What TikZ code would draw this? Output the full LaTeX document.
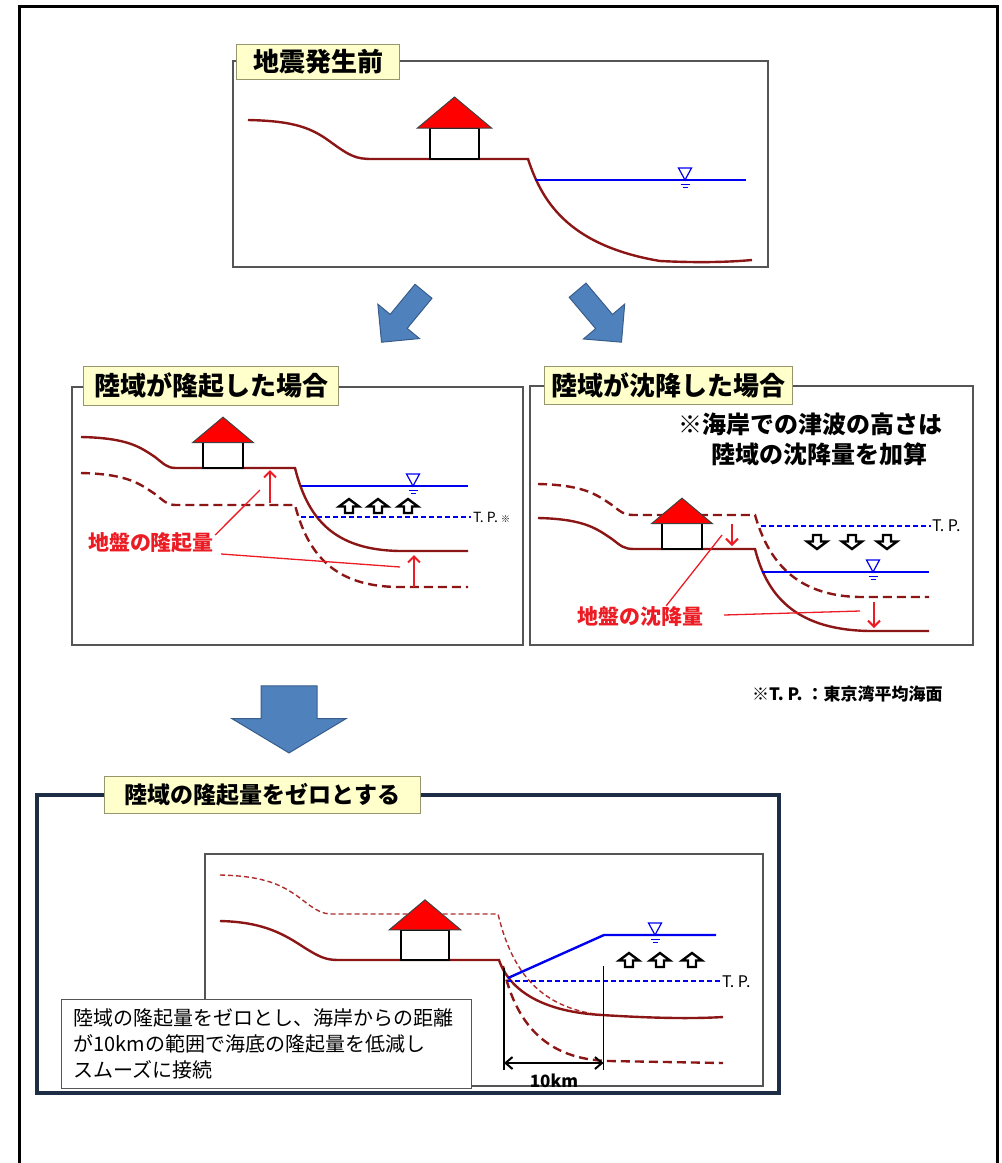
\documentclass[tikz,border=0pt]{standalone}
\usepackage{fontspec}
\setmainfont{Noto Sans CJK JP}
\usetikzlibrary{arrows.meta}
\usetikzlibrary{shapes.arrows}

\definecolor{groundred}{RGB}{140,22,22}
\definecolor{groundlight}{RGB}{175,45,45}
\definecolor{markred}{RGB}{235,28,36}
\definecolor{seablue}{RGB}{0,0,240}
\definecolor{tagfill}{RGB}{255,255,204}
\definecolor{tagline}{RGB}{150,150,110}
\definecolor{frameline}{RGB}{85,85,85}
\definecolor{navyline}{RGB}{30,45,70}
\definecolor{arrowblue}{RGB}{79,129,189}
\definecolor{arrowedge}{RGB}{56,93,138}

\tikzset{
  ground/.style={draw=groundred, line width=2.4pt},
  groundold/.style={ground, dash pattern=on 9pt off 5pt},
  groundthin/.style={draw=groundlight, line width=1.4pt, dash pattern=on 5pt off 3pt},
  sea/.style={draw=seablue, line width=2.4pt},
  tpline/.style={draw=seablue, line width=1.2pt, dash pattern=on 5pt off 3pt},
  panel/.style={draw=frameline, line width=1.4pt},
  tag/.style={draw=tagline, fill=tagfill, line width=1pt, anchor=north west,
    inner sep=0pt, font=\bfseries\fontsize{26}{26}\selectfont},
  redlbl/.style={text=markred, inner sep=1pt, font=\bfseries\fontsize{21}{21}\selectfont},
  leader/.style={draw=markred, line width=1.3pt},
  redarrow/.style={draw=markred, line width=2pt, -{Straight Barb[length=6pt,width=12pt]}},
  tplbl/.style={anchor=west, inner sep=1pt, font=\fontsize{14}{14}\selectfont},
  bigarrow/.style={single arrow, fill=arrowblue, draw=arrowedge, line width=1pt,
    inner xsep=0pt, inner ysep=10.5pt, single arrow head extend=16pt,
    single arrow tip angle=90},
  pics/house/.style={code={
    \draw[black, line width=1.5pt, fill=white] (-24.5,0) rectangle (24.5,-31);
    \draw[black!75, line width=1pt, fill=red, line join=miter]
      (-37,-31) -- (0,-62) -- (37,-31) -- cycle;
  }},
  pics/wlmark/.style={code={
    \draw[draw=seablue, line width=1.2pt] (-6.5,-12) -- (6.5,-12) -- (0,0) -- cycle;
    \draw[draw=seablue, line width=1pt] (-4.5,4) -- (4.5,4) (-2.5,7) -- (2.5,7);
  }},
  pics/hollowup/.style={code={
    \draw[black, line width=2.4pt, fill=white, line join=miter]
      (-4,0) -- (-4,-6.5) -- (-10,-6.5) -- (0,-14) -- (10,-6.5) -- (4,-6.5) -- (4,0) -- cycle;
  }}
}

\begin{document}
\begin{tikzpicture}[x=1pt,y=-1pt]
\useasboundingbox (0,0) rectangle (1002,1163);
\draw[black, line width=3pt] (19.5,1175) -- (19.5,6.5) -- (997.5,6.5) -- (997.5,1175);

% before the earthquake
\draw[panel] (233,61) rectangle (768,267);
\draw[ground] (248,120) .. controls (295,121) and (312,128) .. (332,143)
  .. controls (350,156) and (356,159) .. (372,159) -- (528,159)
  .. controls (541,198) and (565,245) .. (660,261)
  .. controls (700,263) and (730,262) .. (752,260);
\draw[sea] (535,180) -- (746,180);
\pic at (685,180) {wlmark};
\pic at (454.5,159) {house};
\node[tag, minimum width=163pt, minimum height=35pt] (before) at (236,44) {地震発生前};

\node[bigarrow, minimum height=66pt, rotate=230.5] (toup) at (406,312.5) {};
\node[bigarrow, minimum height=68pt, rotate=-49.8] (todown) at (596,312) {};

% land uplift
\draw[panel] (72,387) rectangle (523,645);
\draw[groundold] (81,473) .. controls (128,474) and (140,484) .. (155,494)
  .. controls (164,501) and (167,505) .. (176,505) -- (295,505)
  .. controls (308,555) and (335,587) .. (400,587) -- (468,587);
\draw[ground] (81,437) .. controls (128,438) and (140,447) .. (155,457)
  .. controls (164,464) and (167,468) .. (176,468) -- (295,468)
  .. controls (308,520) and (335,550) .. (400,551) -- (468,551);
\pic[scale=0.82] at (223,468) {house};
\draw[sea] (301,486) -- (468,486);
\pic at (413,486) {wlmark};
\draw[tpline] (301,517) -- (471,517);
\node[tplbl] (tpup) at (472,517) {T. P. {\fontsize{9}{9}\selectfont ※}};
\foreach \xa in {349,378,408} \pic at (\xa,513) {hollowup};
\coordinate (upland) at (270,470);
\coordinate (upsea) at (414,555);
\draw[redarrow] (270,503) -- (upland);
\draw[redarrow] (414,587) -- (upsea);
\node[redlbl] (upamt) at (151,543) {地盤の隆起量};
\draw[leader] ([yshift=8pt]upamt.east) -- (260,490);
\draw[leader] ([xshift=6pt,yshift=-11pt]upamt.east) -- (400,567);
\node[tag, minimum width=255pt, minimum height=39pt] (uplift) at (83,366) {陸域が隆起した場合};

% land subsidence
\draw[panel] (530,386) rectangle (973,645);
\node[anchor=north west, inner sep=0pt, align=left,
  font=\bfseries\fontsize{24}{30}\selectfont] (note) at (678,413)
  {※海岸での津波の高さは\\\hspace*{33pt}陸域の沈降量を加算};
\draw[ground] (538,518) .. controls (585,519) and (597,529) .. (612,539)
  .. controls (621,546) and (624,549) .. (634,549) -- (755,549)
  .. controls (768,600) and (800,630) .. (870,631) -- (929,631);
\draw[groundold] (538,484) .. controls (585,485) and (597,495) .. (612,505)
  .. controls (621,512) and (624,515) .. (634,515) -- (755,515)
  .. controls (768,560) and (795,596) .. (860,597) -- (929,597);
\pic[scale=0.82] at (682,549) {house};
\draw[tpline] (761,526) -- (931,526);
\node[tplbl, font=\fontsize{16}{16}\selectfont] (tpdown) at (931,526) {T. P.};
\foreach \xa in {817,852,887} \pic[rotate=180] at (\xa,535) {hollowup};
\draw[sea] (762,572) -- (929,572);
\pic at (873,572) {wlmark};
\coordinate (downland) at (732,546);
\coordinate (downsea) at (874,628);
\draw[redarrow] (732,524) -- (downland);
\draw[redarrow] (874,602) -- (downsea);
\node[redlbl] (downamt) at (640,617) {地盤の沈降量};
\draw[leader] ([xshift=-38pt]downamt.north east) -- (722,535);
\draw[leader] ([xshift=20pt,yshift=2pt]downamt.east) -- (860,611);
\node[tag, minimum width=248pt, minimum height=38pt] (subside) at (544,366) {陸域が沈降した場合};

\node[anchor=west, inner sep=0pt, font=\bfseries\fontsize{17}{17}\selectfont] (fn) at (752,694)
  {※T. P. ：東京湾平均海面};

\node[bigarrow, minimum height=67pt, inner ysep=27.5pt, single arrow head extend=29pt,
  single arrow tip angle=118, rotate=270] (tozero) at (289,711) {};

% uplift of the land set to zero
\draw[draw=navyline, line width=3.5pt] (37,795) rectangle (779,1093);
\draw[panel, line width=1.2pt] (205,854) rectangle (763,1086);
\draw[groundthin] (220,875) .. controls (265,876) and (282,885) .. (300,898)
  .. controls (315,910) and (322,914) .. (332,914) -- (498,914)
  .. controls (512,972) and (540,1008) .. (602,1015);
\draw[ground] (220,921) .. controls (265,922) and (285,935) .. (305,948)
  .. controls (318,956) and (325,960) .. (338,960) -- (499,960)
  .. controls (510,992) and (545,1012) .. (602,1015)
  .. controls (650,1018) and (690,1019) .. (723,1017);
\draw[groundold] (503,966) .. controls (515,1022) and (545,1060) .. (610,1061) -- (723,1063);
\pic[scale=0.97] at (425,960) {house};
\draw[tpline] (507,981) -- (721,981);
\node[tplbl, font=\fontsize{16}{16}\selectfont] (tpzero) at (721,982) {T. P.};
\draw[sea] (508,978) -- (604,935) -- (716,935);
\pic at (655,935) {wlmark};
\foreach \xa in {629,660,692} \pic at (\xa,967) {hollowup};
\coordinate (shore) at (504,1063);
\coordinate (tenkm) at (603.5,1063);
\draw[black, line width=1.3pt] (504,968) -- (504,1070) (603.5,966) -- (603.5,1070);
\draw[black, line width=2pt, {Straight Barb[length=7pt,width=12pt]}-{Straight Barb[length=7pt,width=12pt]}]
  (shore) -- (tenkm);
\node[inner sep=0pt, font=\bfseries\fontsize{17}{17}\selectfont] (km) at (554,1081) {10km};
\node[draw=frameline, line width=1.2pt, fill=white, anchor=north west, align=left,
  text width=386pt, inner xsep=12pt, minimum height=89pt,
  font=\fontsize{20}{26}\selectfont] (howto) at (61,999)
  {陸域の隆起量をゼロとし、海岸からの距離\\が10kmの範囲で海底の隆起量を低減し\\スムーズに接続};
\node[tag, minimum width=316pt, minimum height=37pt, font=\bfseries\fontsize{23}{23}\selectfont]
  (zero) at (104,776) {陸域の隆起量をゼロとする};
\end{tikzpicture}
\end{document}
